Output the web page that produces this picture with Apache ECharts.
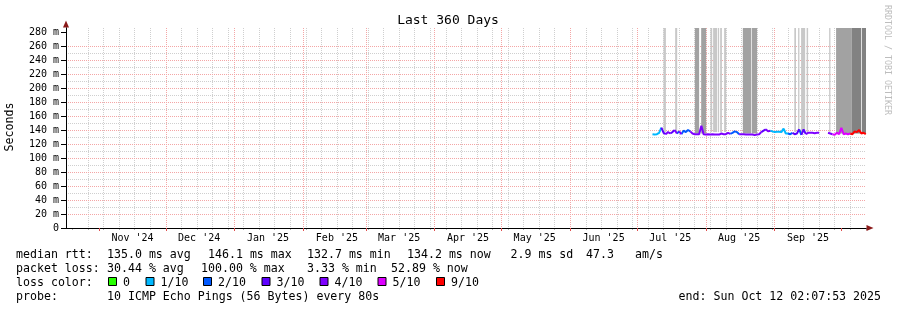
<!DOCTYPE html>
<html><head><meta charset="utf-8">
<script src="https://cdn.jsdelivr.net/npm/echarts@6/dist/echarts.min.js"></script>
<style>html,body{margin:0;padding:0;background:#fff;}#c{width:897px;height:310px;}</style>
</head><body><div id="c"></div>
<script>
// ---------------- data ----------------
const titleText = 'Last 360 Days';
const yAxisName = 'Seconds';
const watermark = 'RRDTOOL / TOBI OETIKER';
const endTime = '2025-10-12T02:07:53';
const rangeDays = 360;
const yMax = 285.7;
const yTicks = [0, 20, 40, 60, 80, 100, 120, 140, 160, 180, 200, 220, 240, 260, 280];
const yMinor = [10, 30, 50, 70, 90, 110, 130, 150, 170, 190, 210, 230, 250, 270];
const monthStarts = ['2024-11-01','2024-12-01','2025-01-01','2025-02-01','2025-03-01','2025-04-01','2025-05-01','2025-06-01','2025-07-01','2025-08-01','2025-09-01','2025-10-01'];
const monthLabelDates = ['2024-11-16','2024-12-16','2025-01-16','2025-02-16','2025-03-16','2025-04-16','2025-05-16','2025-06-16','2025-07-16','2025-08-16','2025-09-16'];
const monthLabels = ["Nov '24","Dec '24","Jan '25","Feb '25","Mar '25","Apr '25","May '25","Jun '25","Jul '25","Aug '25","Sep '25"];
const firstWeekStart = '2024-10-20';

const rttDates = ['2025-07-08','2025-07-09','2025-07-10','2025-07-11','2025-07-12','2025-07-13','2025-07-14','2025-07-15','2025-07-16','2025-07-17','2025-07-18','2025-07-19','2025-07-20','2025-07-21','2025-07-22','2025-07-23','2025-07-24','2025-07-25','2025-07-26','2025-07-27','2025-07-28','2025-07-29','2025-07-30','2025-07-31',
'2025-08-01','2025-08-02','2025-08-03','2025-08-04','2025-08-05','2025-08-06','2025-08-07','2025-08-08','2025-08-09','2025-08-10','2025-08-11','2025-08-12','2025-08-13','2025-08-14','2025-08-15','2025-08-16','2025-08-17','2025-08-18','2025-08-19','2025-08-20','2025-08-21','2025-08-22','2025-08-23','2025-08-24','2025-08-25','2025-08-26','2025-08-27','2025-08-28','2025-08-29','2025-08-30','2025-08-31',
'2025-09-01','2025-09-02','2025-09-03','2025-09-04','2025-09-05','2025-09-06','2025-09-07','2025-09-08','2025-09-09','2025-09-10','2025-09-11','2025-09-12','2025-09-13','2025-09-14','2025-09-15','2025-09-16','2025-09-17','2025-09-18','2025-09-19','2025-09-20','2025-09-21','2025-09-22','2025-09-23','2025-09-24','2025-09-25','2025-09-26','2025-09-27','2025-09-28','2025-09-29','2025-09-30',
'2025-10-01','2025-10-02','2025-10-03','2025-10-04','2025-10-05','2025-10-06','2025-10-07','2025-10-08','2025-10-09','2025-10-10','2025-10-11','2025-10-12'];
const rttMedian = [134,133.5,134,136,143.5,136,134,137,135,137,140,135,138,134,139,137,140,138,135,134,134,134,146.1,134,
133.5,133.8,133.5,133.8,133.5,133.7,133.5,135,134,134,136,134.5,136,138,137,134,134,133.8,133.5,133.5,133.7,133.5,132.7,133.5,134,137,139,141,138,139,138,
137,137.5,137.5,137,142,135,135,134,136,134,135,141,133,141,134,136,136,136,135.5,136,136,null,null,null,136,135,134,133,136,134,
143,134,135,134,135,134,138,137,140,135,136,134.2];
const rttLoss = [1,1,1,1,1,3,3,4,4,3,3,4,2,4,2,2,2,2,4,4,4,4,4,4,
4,4,4,4,4,4,4,4,4,4,4,4,2,2,2,2,4,4,4,4,4,4,4,4,4,4,3,3,4,4,1,
1,1,1,1,1,1,1,2,2,3,3,3,2,3,3,4,4,4,4,4,4,null,null,null,4,4,4,5,5,5,
5,5,5,5,5,9,9,9,9,9,9,9];

const smokeStart = ['2025-07-12T23','2025-07-18T05','2025-07-27T02','2025-07-29T22','2025-08-03T02','2025-08-04T07','2025-08-06T10','2025-08-07T11','2025-08-09T06','2025-08-17T16','2025-08-21T17','2025-09-09T20','2025-09-11T13','2025-09-12T21','2025-09-15T09','2025-09-25T12','2025-09-28T15','2025-10-05T17','2025-10-10T05'];
const smokeEnd   = ['2025-07-14T01','2025-07-19T03','2025-07-29T00','2025-08-01T04','2025-08-03T21','2025-08-06T02','2025-08-07T00','2025-08-08T06','2025-08-10T04','2025-08-21T10','2025-08-24T02','2025-09-10T14','2025-09-12T03','2025-09-14T17','2025-09-16T01','2025-09-26T02','2025-10-05T17','2025-10-09T21','2025-10-12T02'];
const smokeDensity = [1,1,2,2,1,1,1,1,1,2,2,1,1,1,1,1,2,3,3];
const smokeLow = [137,137,135,135,137,137,137,137,137,135,135,137,137,137,137,137,135,135,135];

const lossLevels = [0, 1, 2, 3, 4, 5, 9];
const lossLabels = ['0', '1/10', '2/10', '3/10', '4/10', '5/10', '9/10'];
const rttRow = ['median rtt:', '135.0 ms avg', '146.1 ms max', '132.7 ms min', '134.2 ms now', '2.9 ms sd', '47.3', 'am/s'];
const lossRow = ['packet loss:', '30.44 % avg', '100.00 % max', '3.33 % min', '52.89 % now'];
const lossColorTitle = 'loss color:';
const probeRow = ['probe:', '10 ICMP Echo Pings (56 Bytes) every 80s'];
const endText = 'end: Sun Oct 12 02:07:53 2025';

// ---------------- styles ----------------
const lossColors = {0:'#26ff00', 1:'#00b8ff', 2:'#0059ff', 3:'#5e00ff', 4:'#7e00ff', 5:'#dd00ff', 9:'#ff0000'};
const smokeColors = {1:'#c8c8c8', 2:'#a2a2a2', 3:'#828282'};
const MONO = '"DejaVu Sans Mono", monospace';
const majorGrid = '#f4a6a6';
const minorGrid = '#cfcfcf';

// ---------------- helpers ----------------
const T = s => s.length === 10 ? Date.parse(s + 'T00:00:00Z') : (s.length === 13 ? Date.parse(s + ':00:00Z') : Date.parse(s + 'Z'));
const endMs = T(endTime);
const startMs = endMs - rangeDays * 86400000;
const weekStarts = [];
for (let t = T(firstWeekStart); t <= endMs; t += 7 * 86400000) weekStarts.push(t);
const labelMap = {};
monthLabelDates.forEach((d, i) => { labelMap[T(d)] = monthLabels[i]; });

const n = rttDates.length;
const lineSeries = lossLevels.map(L => {
  const d = [];
  for (let j = 1; j < n; j++) {
    if (rttLoss[j] === L && rttMedian[j] != null && rttMedian[j - 1] != null) {
      const last = d[d.length - 1];
      const tPrev = T(rttDates[j - 1]);
      if (!(last && last[0] === tPrev && last[1] != null)) {
        if (d.length) d.push([tPrev, null]);
        d.push([tPrev, rttMedian[j - 1]]);
      }
      d.push([T(rttDates[j]), rttMedian[j]]);
    }
  }
  return {
    type: 'line', name: String(L), data: d, symbol: 'none', showSymbol: false, connectNulls: false,
    lineStyle: { color: lossColors[L], width: 2 }, itemStyle: { color: lossColors[L] },
    z: 5, silent: true, animation: false
  };
});

const helperData = rttDates.map((d, i) => [T(d), rttMedian[i]]);
const smokeAreas = smokeStart.map((s, i) => [
  { xAxis: T(s), yAxis: smokeLow[i], itemStyle: { color: smokeColors[smokeDensity[i]], opacity: 1, borderWidth: 0 } },
  { xAxis: T(smokeEnd[i]), yAxis: yMax }
]);

// ---------------- legend graphics ----------------
const g = [];
function txt(text, x, y, size, align) {
  g.push({ type: 'text', x: x, y: y, silent: true,
    style: { text: text, font: size + 'px ' + MONO, fill: '#000', align: align || 'left', verticalAlign: 'middle' } });
}
txt(titleText, 448, 20.5, 13, 'center');
g.push({ type: 'text', x: 10, y: 127, rotation: Math.PI / 2, silent: true,
  style: { text: yAxisName, font: '11.6px ' + MONO, fill: '#000', align: 'center', verticalAlign: 'middle' } });
g.push({ type: 'text', x: 887, y: 60, rotation: -Math.PI / 2, silent: true,
  style: { text: watermark, font: '8.3px ' + MONO, fill: '#bdbdbd', align: 'center', verticalAlign: 'middle' } });
const rowY = [254.5, 268.5, 282.5, 296.5];
const rttX = [16, 107, 208, 307, 407, 510.5, 586, 635];
rttRow.forEach((s, i) => txt(s, rttX[i], rowY[0], 11.6));
const lossX = [16, 107, 201, 307, 391];
lossRow.forEach((s, i) => txt(s, lossX[i], rowY[1], 11.6));
txt(lossColorTitle, 16, rowY[2], 11.6);
const boxX = [108, 145.5, 203, 261.5, 319.5, 377.5, 436];
lossLevels.forEach((L, i) => {
  g.push({ type: 'rect', silent: true, shape: { x: boxX[i] + 0.5, y: 277.5, width: 8, height: 8 },
    style: { fill: lossColors[L], stroke: '#000', lineWidth: 1 } });
  txt(lossLabels[i], boxX[i] + 15, rowY[2], 11.6);
});
txt(probeRow[0], 16, rowY[3], 11.6);
txt(probeRow[1], 107, rowY[3], 11.6);
txt(endText, 881, rowY[3], 11.6, 'right');

// ---------------- chart ----------------
const dotted = c => ({ show: true, showMinLine: false, showMaxLine: false, lineStyle: { color: c, type: [1, 1], width: 1 } });
const chart = echarts.init(document.getElementById('c'), null, { renderer: 'canvas' });
chart.setOption({
  animation: false,
  backgroundColor: '#ffffff',
  textStyle: { fontFamily: MONO },
  grid: { left: 66, top: 28, width: 800, height: 200, containLabel: false },
  xAxis: [
    { type: 'value', min: startMs, max: endMs, position: 'bottom', z: 1,
      axisLine: { show: true, onZero: false, lineStyle: { color: '#000', width: 1 } },
      axisTick: { show: true, customValues: monthStarts.map(T), length: 3, lineStyle: { color: '#e05050' } },
      axisLabel: { show: true, customValues: monthLabelDates.map(T), formatter: v => labelMap[v] || '',
        fontFamily: MONO, fontSize: 10, color: '#000', margin: 5 },
      splitLine: dotted(majorGrid) },
    { type: 'value', min: startMs, max: endMs, position: 'bottom', z: 0,
      axisLine: { show: true, onZero: false, symbol: ['none', 'triangle'], symbolSize: [6, 7], symbolOffset: [0, 4],
        lineStyle: { color: '#8b1a1a', width: 1 } },
      axisTick: { show: true, customValues: weekStarts, length: 2, lineStyle: { color: '#b0b0b0' } },
      axisLabel: { show: false },
      splitLine: dotted(minorGrid) }
  ],
  yAxis: [
    { type: 'value', min: 0, max: yMax, position: 'left', z: 1,
      axisLine: { show: true, onZero: false, lineStyle: { color: '#000', width: 1 } },
      axisTick: { show: true, customValues: yTicks, length: 5, lineStyle: { color: '#000' } },
      axisLabel: { show: true, customValues: yTicks, formatter: v => v === 0 ? '0' : v + ' m',
        fontFamily: MONO, fontSize: 10, color: '#000', margin: 7 },
      splitLine: dotted(majorGrid) },
    { type: 'value', min: 0, max: yMax, position: 'left', z: 0,
      axisLine: { show: true, onZero: false, symbol: ['none', 'triangle'], symbolSize: [6, 7], symbolOffset: [0, 4],
        lineStyle: { color: '#8b1a1a', width: 1 } },
      axisTick: { show: true, customValues: yMinor, length: 0, lineStyle: { color: '#b0b0b0' } },
      axisLabel: { show: false },
      splitLine: dotted(minorGrid) }
  ],
  series: [
    { type: 'line', data: helperData, symbol: 'none', lineStyle: { opacity: 0 }, silent: true, z: 2,
      markArea: { z: 2, silent: true, label: { show: false }, animation: false, emphasis: { disabled: true }, data: smokeAreas } }
  ].concat(lineSeries),
  graphic: g
});
</script></body></html>
